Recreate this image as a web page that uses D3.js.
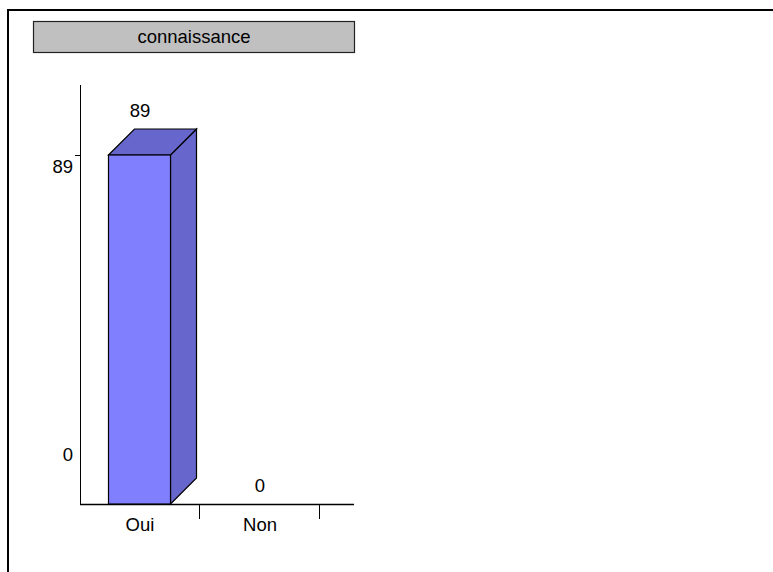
<!DOCTYPE html>
<html>
<head>
<meta charset="utf-8">
<script src="https://cdn.jsdelivr.net/npm/d3@7"></script>
<style>
  body { margin: 0; background: #fff; }
  text { font-family: "Liberation Sans", Arial, sans-serif; font-size: 18.5px; fill: #000; }
</style>
</head>
<body>
<div id="chart"></div>
<script>
// data
var categories = ["Oui", "Non"]
var values = [89, 0]
var yTicks = [0, 89]
var title = "connaissance"

var W = 773, H = 572

var svg = d3.select("#chart")
  .append("svg")
    .attr("width", W)
    .attr("height", H)

// outer frame (runs past the right and bottom edges)
svg.append("path")
    .attr("d", "M8,580 L8,10 L780,10")
    .attr("fill", "none")
    .attr("stroke", "#000")
    .attr("stroke-width", 2)

// title box
svg.append("rect")
    .attr("x", 33.5).attr("y", 21.5)
    .attr("width", 321).attr("height", 31)
    .attr("fill", "#c0c0c0")
    .attr("stroke", "#222")
    .attr("stroke-width", 1.2)
svg.append("text")
    .attr("x", 194).attr("y", 42.5)
    .attr("text-anchor", "middle")
    .text(title)

// scales
var x = d3.scaleBand()
    .domain(categories)
    .range([80, 320])
    .paddingInner(0)

var y = d3.scaleLinear()
    .domain([0, 89])
    .range([504, 155])

var depth = 26
var barW = 62

// y axis line + ticks
svg.append("line")
    .attr("x1", 80.5).attr("x2", 80.5)
    .attr("y1", y(0)).attr("y2", 85)
    .attr("stroke", "#000")
svg.selectAll(".ytick")
  .data(yTicks.filter(d => d > 0))
  .enter().append("line")
    .attr("x1", 75).attr("x2", 80)
    .attr("y1", d => Math.round(y(d)) + 0.5)
    .attr("y2", d => Math.round(y(d)) + 0.5)
    .attr("stroke", "#000")
// tick labels (excel puts them a bit off the tick)
var yLabOff = {0: -43.5, 89: 17.5}
svg.selectAll(".ylab")
  .data(yTicks)
  .enter().append("text")
    .attr("x", 73)
    .attr("y", d => y(d) + yLabOff[d])
    .attr("text-anchor", "end")
    .text(d => d)

// x axis
svg.append("line")
    .attr("x1", 80).attr("x2", 354)
    .attr("y1", y(0) + 0.5).attr("y2", y(0) + 0.5)
    .attr("stroke", "#000")
    .attr("stroke-width", 1.5)
svg.selectAll(".xtick")
  .data(categories)
  .enter().append("line")
    .attr("x1", d => x(d) + x.bandwidth() - 0.5)
    .attr("x2", d => x(d) + x.bandwidth() - 0.5)
    .attr("y1", y(0)).attr("y2", y(0) + 15)
    .attr("stroke", "#000")
svg.selectAll(".xlab")
  .data(categories)
  .enter().append("text")
    .attr("x", d => x(d) + x.bandwidth() / 2)
    .attr("y", y(0) + 27)
    .attr("text-anchor", "middle")
    .text(d => d)

// 3d bars
var data = categories.map((c, i) => ({name: c, value: values[i]}))
var bars = svg.selectAll(".bar")
  .data(data.filter(d => d.value > 0))
  .enter().append("g")

bars.each(function(d) {
  var g = d3.select(this)
  var x0 = x(d.name) + (x.bandwidth() - barW) / 2 - 0.5
  var x1 = x0 + barW
  var yt = y(d.value), yb = y(0)
  // side
  g.append("path")
    .attr("d", `M${x1},${yt} L${x1 + depth},${yt - depth} L${x1 + depth},${yb - depth} L${x1},${yb} Z`)
    .attr("fill", "#6666cc").attr("stroke", "#000").attr("stroke-width", 1.2)
  // top
  g.append("path")
    .attr("d", `M${x0},${yt} L${x0 + depth},${yt - depth} L${x1 + depth},${yt - depth} L${x1},${yt} Z`)
    .attr("fill", "#6666cc").attr("stroke", "#000").attr("stroke-width", 1.2)
  // front
  g.append("rect")
    .attr("x", x0).attr("y", yt)
    .attr("width", barW).attr("height", yb - yt)
    .attr("fill", "#8080ff").attr("stroke", "#000").attr("stroke-width", 1.2)
})

// value labels
svg.selectAll(".vlab")
  .data(data)
  .enter().append("text")
    .attr("x", d => x(d.name) + x.bandwidth() / 2)
    .attr("y", d => y(d.value) - (d.value > 0 ? depth : 0) - 12.5)
    .attr("text-anchor", "middle")
    .text(d => d.value)
</script>
</body>
</html>
